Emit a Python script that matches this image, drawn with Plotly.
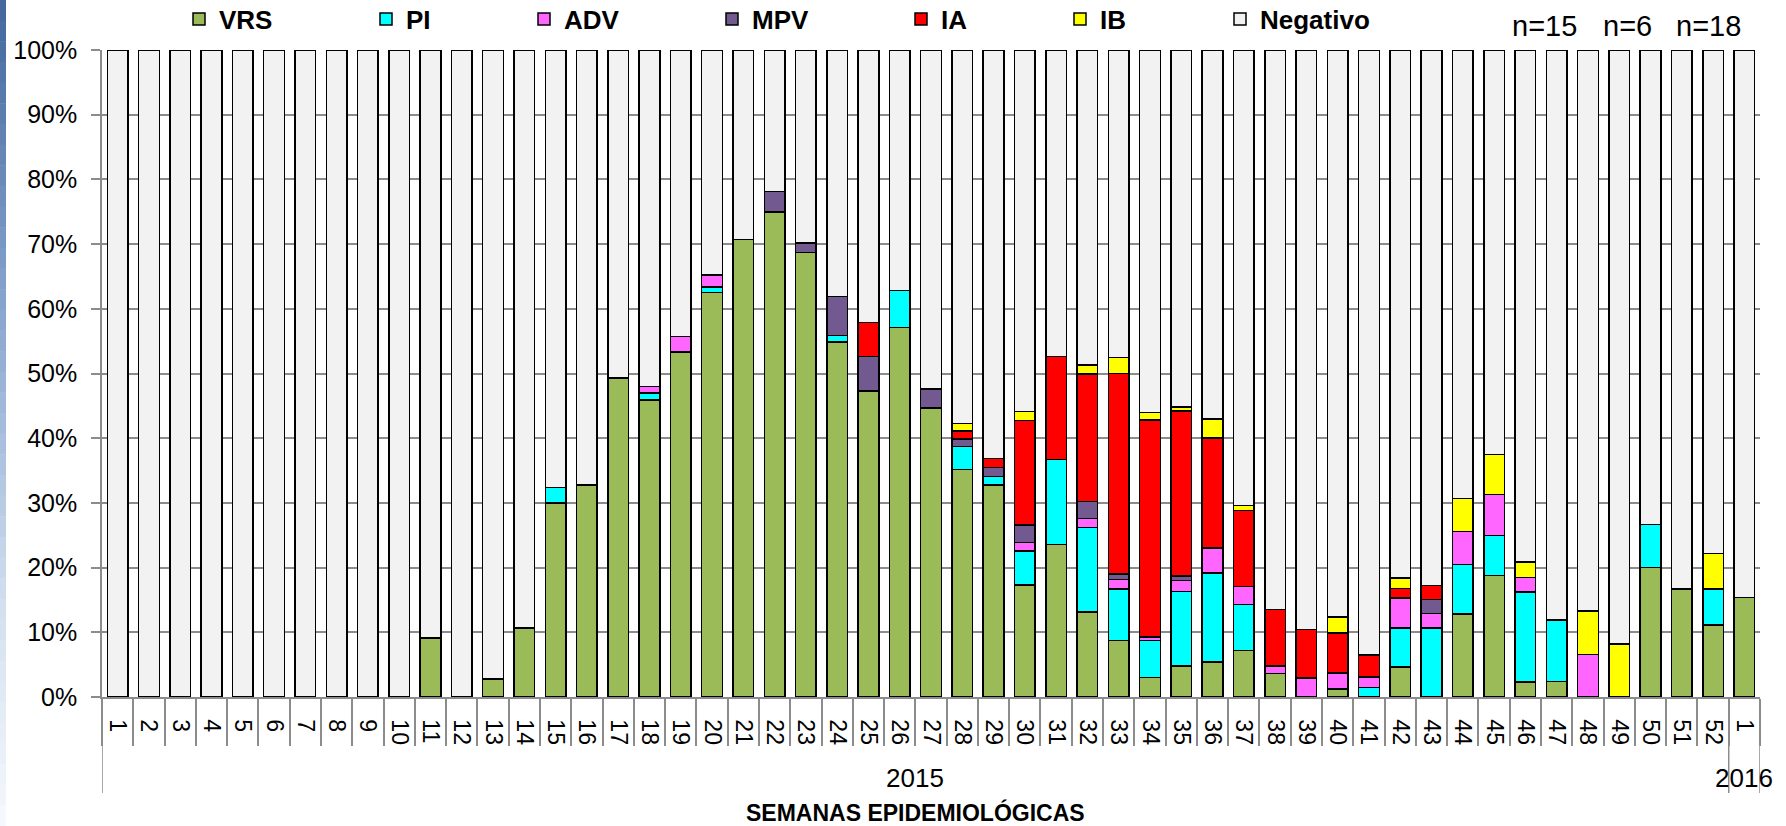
import plotly.graph_objects as go

years = ["2015"] * 52 + ["2016"]
weeks = [str(i) for i in range(1, 53)] + ["1"]

VRS = [0, 0, 0, 0, 0, 0, 0, 0, 0, 0,
       9.1, 0, 2.8, 10.7, 30.0, 32.8, 49.3, 45.9, 53.3, 62.5,
       70.7, 75.0, 68.7, 54.9, 47.3, 57.1, 44.7, 35.2, 32.8, 17.3,
       23.6, 13.1, 8.7, 3.0, 4.8, 5.4, 7.2, 3.6, 0, 1.2,
       0, 4.6, 0, 12.8, 18.8, 2.3, 2.4, 0, 0, 20.0,
       16.7, 11.1, 15.4]
PI = [0, 0, 0, 0, 0, 0, 0, 0, 0, 0,
      0, 0, 0, 0, 2.4, 0, 0, 1.1, 0, 0.9,
      0, 0, 0, 1.0, 0, 5.7, 0, 3.5, 1.3, 5.3,
      13.1, 13.1, 8.0, 5.7, 11.5, 13.8, 7.1, 0, 0, 0,
      1.5, 6.1, 10.7, 7.7, 6.2, 13.9, 9.5, 0, 0, 6.7,
      0, 5.6, 0]
ADV = [0, 0, 0, 0, 0, 0, 0, 0, 0, 0,
       0, 0, 0, 0, 0, 0, 0, 1.0, 2.4, 1.8,
       0, 0, 0, 0, 0, 0, 0, 0, 0, 1.3,
       0, 1.4, 1.5, 0.6, 1.7, 3.8, 2.8, 1.2, 2.9, 2.5,
       1.6, 4.6, 2.2, 5.1, 6.3, 2.3, 0, 6.6, 0, 0,
       0, 0, 0]
MPV = [0, 0, 0, 0, 0, 0, 0, 0, 0, 0,
       0, 0, 0, 0, 0, 0, 0, 0, 0, 0,
       0, 3.1, 1.5, 6.0, 5.3, 0, 2.9, 1.2, 1.4, 2.7,
       0, 2.6, 0.8, 0, 0.7, 0, 0, 0, 0, 0,
       0, 0, 2.2, 0, 0, 0, 0, 0, 0, 0,
       0, 0, 0]
IA = [0, 0, 0, 0, 0, 0, 0, 0, 0, 0,
      0, 0, 0, 0, 0, 0, 0, 0, 0, 0,
      0, 0, 0, 0, 5.3, 0, 0, 1.2, 1.4, 16.1,
      15.9, 19.7, 31.0, 33.5, 25.5, 17.0, 11.7, 8.7, 7.5, 6.2,
      3.4, 1.5, 2.1, 0, 0, 0, 0, 0, 0, 0,
      0, 0, 0]
IB = [0, 0, 0, 0, 0, 0, 0, 0, 0, 0,
      0, 0, 0, 0, 0, 0, 0, 0, 0, 0,
      0, 0, 0, 0, 0, 0, 0, 1.2, 0, 1.4,
      0, 1.4, 2.5, 1.2, 0.6, 3.0, 0.8, 0, 0, 2.5,
      0, 1.6, 0, 5.1, 6.2, 2.4, 0, 6.7, 8.2, 0,
      0, 5.5, 0]
NEG = [100, 100, 100, 100, 100, 100, 100, 100, 100, 100,
       90.9, 100, 97.2, 89.3, 67.6, 67.2, 50.7, 52.0, 44.3, 34.8,
       29.3, 21.9, 29.8, 38.1, 42.1, 37.2, 52.4, 57.7, 63.1, 55.9,
       47.4, 48.7, 47.5, 56.0, 55.2, 57.0, 70.4, 86.5, 89.6, 87.6,
       93.5, 81.6, 82.8, 69.3, 62.5, 79.1, 88.1, 86.7, 91.8, 73.3,
       83.3, 77.8, 84.6]

series = [
    ("VRS", VRS, "#9BBB59"),
    ("PI", PI, "#00FFFF"),
    ("ADV", ADV, "#FF66FF"),
    ("MPV", MPV, "#725990"),
    ("IA", IA, "#FF0000"),
    ("IB", IB, "#FFFF00"),
    ("Negativo", NEG, "#F2F2F2"),
]
legend_px = [202, 389, 547, 735, 924, 1083, 1243]

L, R, T, B = 102, 26, 50, 129
W, H = 1786, 826
PW, PH = W - L - R, H - T - B
GRAY = "#8c8c8c"

idx = list(range(len(weeks)))

fig = go.Figure()
for i, (name, vals, col) in enumerate(series):
    lg = "legend" if i == 0 else f"legend{i+1}"
    fig.add_trace(go.Bar(
        x=idx, y=vals, name=name,
        marker=dict(color=col, line=dict(color="black", width=1.5)),
        legend=lg, showlegend=True,
    ))

layout_legends = {}
for i, px in enumerate(legend_px):
    key = "legend" if i == 0 else f"legend{i+1}"
    layout_legends[key] = dict(
        x=(px - 5 - 18 - L) / PW, y=(H - B - 19) / PH,
        xanchor="left", yanchor="middle", orientation="h",
        bgcolor="rgba(0,0,0,0)", borderwidth=0,
        font=dict(family="Liberation Sans, Arial", size=26, color="black", weight="bold"),
    )

# blue gradient strip at the left edge
shapes = []
top = (69, 105, 159)
mid = (143, 171, 211)
low = (213, 225, 240)
bot = (245, 248, 252)
N = 40
for k in range(N):
    f = k / (N - 1)
    if f < 0.4:
        a, b, t = top, mid, f / 0.4
    elif f < 0.75:
        a, b, t = mid, low, (f - 0.4) / 0.35
    else:
        a, b, t = low, bot, (f - 0.75) / 0.25
    c = tuple(int(a[j] + (b[j] - a[j]) * t) for j in range(3))
    ya = k * H / N
    yb = (k + 1) * H / N + 0.5
    shapes.append(dict(
        type="rect", xref="paper", yref="paper",
        x0=(0 - L) / PW, x1=(6 - L) / PW,
        y0=(H - B - yb) / PH, y1=(H - B - ya) / PH,
        fillcolor="rgb(%d,%d,%d)" % c, line=dict(width=0), layer="below",
    ))

# year group dividers and labels
year_names = []
for y in years:
    if y not in year_names:
        year_names.append(y)
bounds = [-0.5]
annotations = []
for yn in year_names:
    members = [i for i, y in enumerate(years) if y == yn]
    bounds.append(members[-1] + 0.5)
    annotations.append(dict(
        text=yn, x=(members[0] + members[-1]) / 2, y=(H - B - 778) / PH,
        xref="x", yref="paper", showarrow=False, xanchor="center", yanchor="middle",
        font=dict(family="Liberation Sans, Arial", size=26, color="black"),
    ))
for bx in bounds:
    shapes.append(dict(
        type="line", xref="x", yref="paper", x0=bx, x1=bx,
        y0=0, y1=(H - B - 793) / PH, line=dict(color=GRAY, width=1.5),
    ))

for txt, px in [("n=15", 1544), ("n=6", 1627), ("n=18", 1708)]:
    annotations.append(dict(
        text=txt, x=(px - L) / PW, y=(H - B - 26) / PH,
        xref="paper", yref="paper", showarrow=False, xanchor="center", yanchor="middle",
        font=dict(family="Liberation Sans, Arial", size=29, color="black"),
    ))
annotations.append(dict(
    text="SEMANAS EPIDEMIOLÓGICAS", x=(915 - L) / PW, y=(H - B - 812) / PH,
    xref="paper", yref="paper", showarrow=False, xanchor="center", yanchor="middle",
    font=dict(family="Liberation Sans, Arial", size=23, color="black", weight="bold"),
))

fig.update_layout(
    width=W, height=H,
    margin=dict(l=L, r=R, t=T, b=B, autoexpand=False),
    barmode="stack", bargap=0.34, showlegend=True,
    plot_bgcolor="white", paper_bgcolor="white",
    font=dict(family="Liberation Sans, Arial", color="black"),
    shapes=shapes, annotations=annotations,
    **layout_legends,
)
fig.update_yaxes(
    range=[0, 100], dtick=10, ticksuffix="%",
    showgrid=True, gridcolor=GRAY, gridwidth=1.5,
    showline=True, linecolor=GRAY, linewidth=1.5,
    ticks="outside", ticklen=9, tickcolor=GRAY, tickwidth=1.5,
    tickfont=dict(size=25, color="black"), ticklabelstandoff=9,
    zeroline=False, fixedrange=True,
)
fig.update_xaxes(
    range=[-0.5, len(weeks) - 0.5],
    tickmode="array", tickvals=idx, ticktext=weeks, tickangle=90,
    showgrid=False, showline=True, linecolor=GRAY, linewidth=1.5,
    ticks="", ticklabelstandoff=16,
    minor=dict(tickmode="array", tickvals=[i - 0.5 for i in range(len(weeks) + 1)],
               ticks="outside", ticklen=47, tickcolor=GRAY, tickwidth=1.5, showgrid=False),
    tickfont=dict(size=23, color="black"),
    zeroline=False, fixedrange=True,
)

fig.write_html("out.html", config={"displayModeBar": False},
               post_script="document.body.style.margin='0';")
